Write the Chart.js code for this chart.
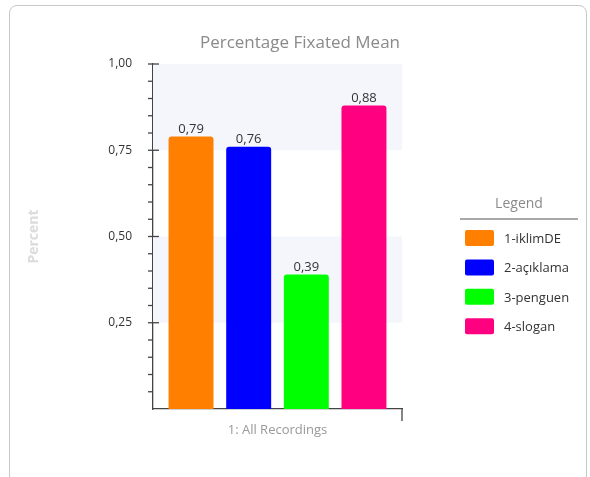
<!DOCTYPE html>
<html>
<head>
<meta charset="utf-8">
<script src="https://cdn.jsdelivr.net/npm/chart.js@4/dist/chart.umd.min.js"></script>
<style>
  html, body { margin: 0; padding: 0; background: #fff; }
  #wrap { position: relative; width: 590px; height: 477px; overflow: hidden; }
  #frame { position: absolute; left: 9px; top: 5px; width: 578px; height: 500px;
           border: 1.5px solid #c8c8c8; border-radius: 8px; box-sizing: border-box; }
  canvas { position: absolute; left: 0; top: 0; }
</style>
</head>
<body>
<div id="wrap">
  <div id="frame"></div>
  <canvas id="c" width="590" height="477"></canvas>
</div>
<script>
const chartTitle = 'Percentage Fixated Mean';
const categories = ['1: All Recordings'];
const seriesNames = ['1-iklimDE', '2-açıklama', '3-penguen', '4-slogan'];
const seriesValues = [0.79, 0.76, 0.39, 0.88];
const seriesColors = ['#ff8000', '#0000ff', '#00ff00', '#ff0080'];
const majorTicks = [0.25, 0.5, 0.75, 1.0];

const FONT = '"Open Sans", "Noto Sans", sans-serif';
const fmt = v => v.toFixed(2).replace('.', ',');

const bandsPlugin = {
  id: 'bands',
  beforeDatasetsDraw(chart) {
    const { ctx, chartArea, scales: { y } } = chart;
    ctx.save();
    ctx.fillStyle = '#f4f6fc';
    [[0.75, 1.0], [0.25, 0.5]].forEach(([a, b]) => {
      const y1 = y.getPixelForValue(b), y2 = y.getPixelForValue(a);
      ctx.fillRect(chartArea.left, y1, chartArea.right - chartArea.left, y2 - y1);
    });
    ctx.restore();
  }
};

const axisPlugin = {
  id: 'axisDeco',
  afterDraw(chart) {
    const { ctx, chartArea, scales: { y } } = chart;
    ctx.save();
    // title
    ctx.fillStyle = '#8a8a8a';
    ctx.font = '17px ' + FONT;
    ctx.textAlign = 'center';
    ctx.textBaseline = 'middle';
    ctx.fillText(chartTitle, 300, 43);

    ctx.strokeStyle = '#444';
    ctx.lineWidth = 1.3;
    const x0 = chartArea.left;
    y.ticks.forEach(t => {
      if (Math.abs(t.value) < 1e-6) return;
      const py = y.getPixelForValue(t.value);
      const major = majorTicks.some(m => Math.abs(m - t.value) < 1e-6);
      ctx.beginPath();
      ctx.moveTo(x0 - 5, py);
      ctx.lineTo(major ? x0 + 6 : x0, py);
      ctx.stroke();
    });
    // right end tick of x axis
    ctx.beginPath();
    ctx.moveTo(chartArea.right, chartArea.bottom);
    ctx.lineTo(chartArea.right, chartArea.bottom + 12);
    ctx.stroke();
    // data labels
    ctx.fillStyle = '#333';
    ctx.font = '13px ' + FONT;
    ctx.textAlign = 'center';
    ctx.textBaseline = 'bottom';
    chart.data.datasets.forEach((ds, i) => {
      const el = chart.getDatasetMeta(i).data[0];
      ctx.fillText(fmt(ds.data[0]), el.x, el.y - 1);
    });
    // legend
    ctx.fillStyle = '#8a8a8a';
    ctx.font = '14px ' + FONT;
    ctx.textBaseline = 'middle';
    ctx.fillText('Legend', 519, 204);
    ctx.strokeStyle = '#a8a8a8';
    ctx.lineWidth = 2;
    ctx.beginPath();
    ctx.moveTo(460, 219);
    ctx.lineTo(578, 219);
    ctx.stroke();
    ctx.textAlign = 'left';
    ctx.font = '13px ' + FONT;
    chart.data.datasets.forEach((ds, i) => {
      const cy = 238 + i * 29.4;
      ctx.fillStyle = ds.backgroundColor;
      ctx.beginPath();
      ctx.roundRect(465, cy - 8, 29, 16, 2);
      ctx.fill();
      ctx.fillStyle = '#333';
      ctx.fillText(ds.label, 504, cy + 1);
    });
    ctx.restore();
  }
};

new Chart(document.getElementById('c'), {
  type: 'bar',
  data: {
    labels: categories,
    datasets: seriesNames.map((n, i) => ({
      label: n,
      data: [seriesValues[i]],
      backgroundColor: seriesColors[i],
      borderRadius: { topLeft: 3, topRight: 3 },
      borderSkipped: 'bottom',
      categoryPercentage: 0.926,
      barPercentage: 0.78
    }))
  },
  options: {
    responsive: false,
    animation: false,
    events: [],
    layout: { padding: { left: 0, right: 188, top: 64, bottom: 0 } },
    plugins: {
      legend: { display: false },
      tooltip: { enabled: false },
      title: { display: false }
    },
    scales: {
      x: {
        grid: { display: false },
        border: { display: true, color: '#444', width: 1.3 },
        ticks: { color: '#999', font: { family: FONT, size: 13 }, padding: 5 },
        afterFit(s) { s.height = 477 - 409; }
      },
      y: {
        min: 0, max: 1,
        grid: { display: false },
        border: { display: true, color: '#444', width: 1.3 },
        ticks: {
          stepSize: 0.05,
          autoSkip: false,
          color: '#333',
          font: { family: FONT, size: 12 },
          padding: 13,
          callback: v => majorTicks.some(m => Math.abs(m - v) < 1e-6) ? fmt(v) : ''
        },
        title: {
          display: true,
          text: 'Percent',
          color: '#dcdcdc',
          font: { family: FONT, size: 14, weight: 'bold' },
          padding: { top: 26, bottom: 0 }
        },
        afterFit(s) { s.width = 153; }
      }
    }
  },
  plugins: [bandsPlugin, axisPlugin]
});
</script>
</body>
</html>
